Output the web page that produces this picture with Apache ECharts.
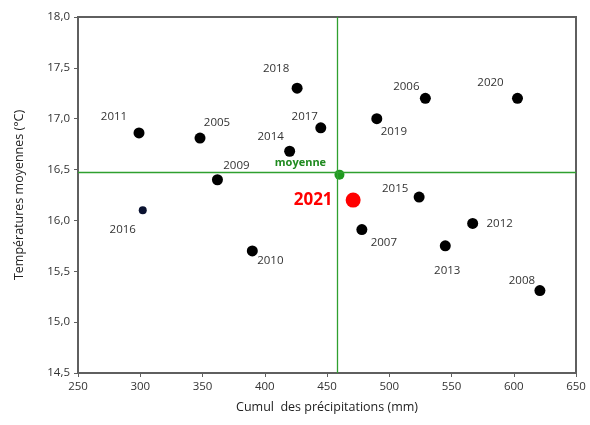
<!DOCTYPE html>
<html>
<head>
<meta charset="utf-8">
<script src="https://cdn.jsdelivr.net/npm/echarts@6/dist/echarts.min.js"></script>
<style>html,body{margin:0;padding:0;background:#fff}#c{width:590px;height:425px}</style>
</head>
<body>
<div id="c"></div>
<script>
// ---- data ----
var years  = ['2011','2005','2018','2017','2014','2009','2010','2006','2020','2019','2015','2007','2012','2013','2008'];
var precip = [299, 348, 426, 445, 420, 362, 390, 529, 603, 490, 524, 478, 567, 545, 621];
var temps  = [16.86, 16.81, 17.30, 16.91, 16.68, 16.40, 15.70, 17.20, 17.20, 17.00, 16.23, 15.91, 15.97, 15.75, 15.31];
var year2016 = ['2016'];
var precip2016 = [302];
var temps2016 = [16.10];
var year2021 = ['2021'];
var precip2021 = [471];
var temps2021 = [16.20];
var moyLabel = ['moyenne'];
var moyPrecip = [460];
var moyTemp = [16.45];
var xTicks = [250, 300, 350, 400, 450, 500, 550, 600, 650];
var yTicks = [14.5, 15.0, 15.5, 16.0, 16.5, 17.0, 17.5, 18.0];

// label offsets (layout only)
var offs = {
  '2011':[-25,-16],'2005':[17,-15],'2018':[-21,-19],'2017':[-16,-11],'2014':[-19,-15],
  '2009':[19,-14],'2010':[18,10],'2006':[-19,-12],'2020':[-27,-16],'2019':[17,13],
  '2015':[-24,-8],'2007':[22,13],'2012':[27,0],'2013':[2,25],'2008':[-18,-10],
  '2016':[-20,19],'2021':[-40,0],'moyenne':[-39,-12]
};

function pts(xs, ys, names){ return xs.map(function(x,i){ return {name:names[i], value:[x, ys[i]]}; }); }
function lay(names){ return function(p){ var o = offs[names[p.dataIndex]]; return {dx:o[0], dy:o[1]}; }; }

var font = 'Open Sans';
var lbl = {show:true, position:'inside', formatter:'{b}', color:'#333', fontSize:11.5, fontFamily:font};

var chart = echarts.init(document.getElementById('c'), null, {renderer:'canvas'});
chart.setOption({
  animation:false,
  grid:{left:78, right:14, top:17, bottom:52, show:true, borderColor:'#5f5f5f', borderWidth:2, backgroundColor:'transparent'},
  xAxis:{
    type:'value', min:250, max:650, interval:50,
    name:'Cumul  des précipitations (mm)', nameLocation:'middle', nameGap:28,
    nameTextStyle:{fontFamily:font, fontSize:12.5, color:'#222'},
    axisLine:{show:true, lineStyle:{color:'#5f5f5f', width:2}},
    axisTick:{show:true, inside:false, length:4, lineStyle:{color:'#5f5f5f'}},
    axisLabel:{fontFamily:font, fontSize:11.5, color:'#333', margin:8},
    splitLine:{show:false}
  },
  yAxis:{
    type:'value', min:14.5, max:18, interval:0.5,
    name:'Températures moyennes (°C)', nameLocation:'middle', nameGap:52,
    nameTextStyle:{fontFamily:font, fontSize:12.5, color:'#222'},
    axisLine:{show:true, lineStyle:{color:'#5f5f5f', width:2}},
    axisTick:{show:true, inside:false, length:4, lineStyle:{color:'#5f5f5f'}},
    axisLabel:{fontFamily:font, fontSize:11.5, color:'#333', margin:8,
      formatter:function(v){ return v.toFixed(1).replace('.', ','); }},
    splitLine:{show:false}
  },
  series:[
    {
      type:'scatter', name:'moyenne', data:pts(moyPrecip, moyTemp, moyLabel),
      symbolSize:10, itemStyle:{color:'#1f9a1f', opacity:1}, z:3,
      label:Object.assign({}, lbl, {color:'#1f8a1f', fontWeight:'bold', fontSize:11}),
      labelLayout:lay(moyLabel),
      markLine:{silent:true, symbol:'none', label:{show:false},
        lineStyle:{color:'#2fa02f', width:1.3, type:'solid'},
        data:[{xAxis:moyPrecip[0] - 2},{yAxis:moyTemp[0] + 0.02}]}
    },
    {
      type:'scatter', name:'years', data:pts(precip, temps, years),
      symbolSize:11, itemStyle:{color:'#000', opacity:1}, label:lbl, labelLayout:lay(years)
    },
    {
      type:'scatter', name:'2016', data:pts(precip2016, temps2016, year2016),
      symbolSize:8, itemStyle:{color:'#0a1230', opacity:1}, label:lbl, labelLayout:lay(year2016)
    },
    {
      type:'scatter', name:'2021', data:pts(precip2021, temps2021, year2021),
      symbolSize:15, itemStyle:{color:'#ff0000', opacity:1}, z:4,
      label:Object.assign({}, lbl, {color:'#ff0000', fontWeight:'bold', fontSize:17}),
      labelLayout:lay(year2021)
    }
  ]
});
</script>
</body>
</html>
